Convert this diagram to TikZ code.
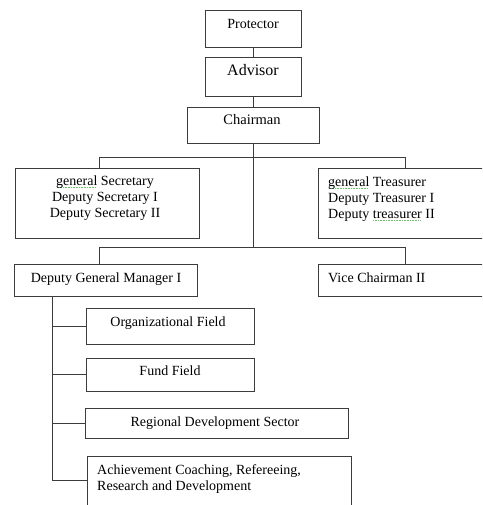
\documentclass[tikz,border=0pt]{standalone}
\usepackage{fontspec}
\setmainfont{Liberation Serif}
\definecolor{squiggreen}{HTML}{6FBF6F}
\definecolor{linegray}{HTML}{3C3C3C}
\newsavebox\squigbox
\newcommand\squig[1]{\sbox\squigbox{#1}\rlap{\color{squiggreen}\leaders\hbox to 1.6pt{\hss\rule[-2.6pt]{1pt}{0.7pt}\hss}\hskip\wd\squigbox}\usebox\squigbox}
\begin{document}
\begin{tikzpicture}[
        x=1pt, y=-1pt,
        box/.style={draw=linegray, line width=0.8pt, inner sep=0pt},
        txt/.style={inner sep=0pt, font=\fontsize{14}{16}\selectfont},
        link/.style={draw=linegray, line width=0.8pt}
    ]
    \clip (0,0) rectangle (482,505);

    % Top chain
    \node[box, minimum width=96, minimum height=37] (protector) at (253.5,28.5) {};
    \node[box, minimum width=96, minimum height=39] (advisor) at (253.5,76.5) {};
    \node[box, minimum width=132, minimum height=36] (chairman) at (253.5,125) {};
    \node[txt, anchor=base] (protector-t) at (253,29) {Protector};
    \node[txt, anchor=base, font=\fontsize{16}{18}\selectfont] (advisor-t) at (253,76) {Advisor};
    \node[txt, anchor=base, font=\fontsize{14.5}{16}\selectfont] (chairman-t) at (252,125) {Chairman};

    % Secretary and treasurer
    \node[box, minimum width=184, minimum height=70] (secretary) at (107,203) {};
    \node[box, minimum width=182, minimum height=70] (treasurer) at (409,203) {};
    \node[txt, anchor=north, align=center] (secretary-t) at (105,175.5)
        {\squig{general} Secretary\\Deputy Secretary I\\Deputy Secretary II};
    \node[txt, anchor=north west, align=left] (treasurer-t) at (328,176.5)
        {\squig{general} Treasurer\\Deputy Treasurer I\\Deputy \squig{treasurer} II};

    % Second row
    \node[box, minimum width=183, minimum height=32] (dgm) at (105.5,280) {};
    \node[box, minimum width=182, minimum height=32] (vice) at (409,280) {};
    \node[txt, anchor=base] (dgm-t) at (106,282) {Deputy General Manager I};
    \node[txt, anchor=base west] (vice-t) at (328,282) {Vice Chairman II};

    % Fields under the deputy general manager
    \node[box, minimum width=168, minimum height=36] (orgfield) at (170,326) {};
    \node[box, minimum width=168, minimum height=33] (fund) at (170,374.5) {};
    \node[box, minimum width=263, minimum height=30] (regional) at (216.5,423) {};
    \node[box, minimum width=264, minimum height=68] (achieve) at (219,490) {};
    \node[txt, anchor=base] (orgfield-t) at (168,326) {Organizational Field};
    \node[txt, anchor=base] (fund-t) at (170,375) {Fund Field};
    \node[txt, anchor=base] (regional-t) at (215,426) {Regional Development Sector};
    \node[txt, anchor=north west, align=left] (achieve-t) at (97,464.5)
        {Achievement Coaching, Refereeing,\\Research and Development};

    % Junctions
    \coordinate (bar1l) at (99,157);
    \coordinate (bar1r) at (405,157);
    \coordinate (bar2l) at (99,247);
    \coordinate (bar2r) at (405,247);
    \coordinate (stem) at (253.5,247);
    \coordinate (spine) at (52,480);

    % Connectors
    \draw[link] (protector) -- (advisor);
    \draw[link] (advisor) -- (chairman);
    \draw[link] (chairman.south) -- (stem);
    \draw[link] (bar1l |- secretary.north) -- (bar1l) -- (bar1r) -- (bar1r |- treasurer.north);
    \draw[link] (bar2l |- dgm.north) -- (bar2l) -- (bar2r) -- (bar2r |- vice.north);
    \draw[link] (spine |- dgm.south) -- (spine);
    \draw[link] (spine |- orgfield.west) -- (orgfield.west);
    \draw[link] (spine |- fund.west) -- (fund.west);
    \draw[link] (spine |- regional.west) -- (regional.west);
    \draw[link] (spine) -- (spine -| achieve.west);

\end{tikzpicture}
\end{document}
